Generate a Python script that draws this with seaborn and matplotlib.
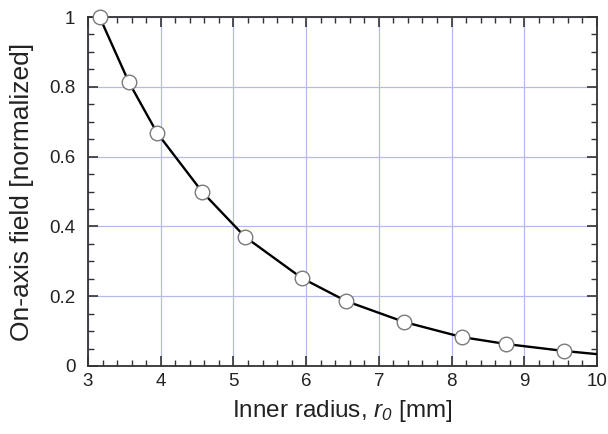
import matplotlib
matplotlib.use("Agg")
import matplotlib.pyplot as plt
import seaborn as sns
import pandas as pd
from matplotlib.ticker import MultipleLocator

# Data
radius_mm = [3.16, 3.56, 3.95, 4.57, 5.16, 5.94, 6.55, 7.35, 8.14, 8.75, 9.55]
field_norm = [1.0, 0.814, 0.668, 0.499, 0.370, 0.252, 0.186, 0.126, 0.083, 0.063, 0.043]
# fitted curve continues to the axis edge
curve_x = radius_mm + [10.0]
curve_y = field_norm + [0.034]

x_ticks = [3, 4, 5, 6, 7, 8, 9, 10]
y_ticks = [0, 0.2, 0.4, 0.6, 0.8, 1.0]
y_tick_labels = ["0", "0.2", "0.4", "0.6", "0.8", "1"]

sns.set_style("white")
plt.rcParams["font.family"] = ["Liberation Sans", "DejaVu Sans"]
plt.rcParams["mathtext.fontset"] = "custom"
plt.rcParams["mathtext.it"] = "Liberation Sans:italic"
plt.rcParams["mathtext.rm"] = "Liberation Sans:italic"

fig = plt.figure(figsize=(6.08, 4.34), dpi=100)
ax = fig.add_axes([88/608, 1 - 366/434, (597-88)/608, (366-17)/434])

df_curve = pd.DataFrame({"x": curve_x, "y": curve_y})
df_pts = pd.DataFrame({"x": radius_mm, "y": field_norm})

sns.lineplot(data=df_curve, x="x", y="y", ax=ax, color="black", linewidth=1.7,
             sort=True, zorder=3)
sns.scatterplot(data=df_pts, x="x", y="y", ax=ax, s=110, facecolor="white",
                edgecolor="#7a7a7a", linewidth=1.0, zorder=4, clip_on=False)

ax.set_xlim(3, 10)
ax.set_ylim(0, 1)
ax.set_xticks(x_ticks)
ax.set_yticks(y_ticks)
ax.set_yticklabels(y_tick_labels)
ax.xaxis.set_minor_locator(MultipleLocator(0.2))
ax.yaxis.set_minor_locator(MultipleLocator(0.05))

ax.grid(True, which="major", color="#b8b8f0", linewidth=0.9)
ax.set_axisbelow(True)

for s in ax.spines.values():
    s.set_visible(True)
    s.set_color("#333333")
    s.set_linewidth(1.3)

ax.tick_params(which="both", direction="in", top=True, right=True,
               bottom=True, left=True, colors="#333333", labelcolor="#222222")
ax.tick_params(which="major", length=7, width=1.2, labelsize=13.5)
ax.tick_params(axis="x", which="major", pad=5)
ax.tick_params(axis="y", which="major", pad=9)
ax.tick_params(which="minor", length=4, width=1.0)

ax.set_xlabel(r"Inner radius, $r_{0}$ [mm]", fontsize=17.5, labelpad=6, color="#222222")
ax.set_ylabel("On-axis field [normalized]", fontsize=19, labelpad=11, color="#222222")

fig.savefig("out.png", dpi=100)
